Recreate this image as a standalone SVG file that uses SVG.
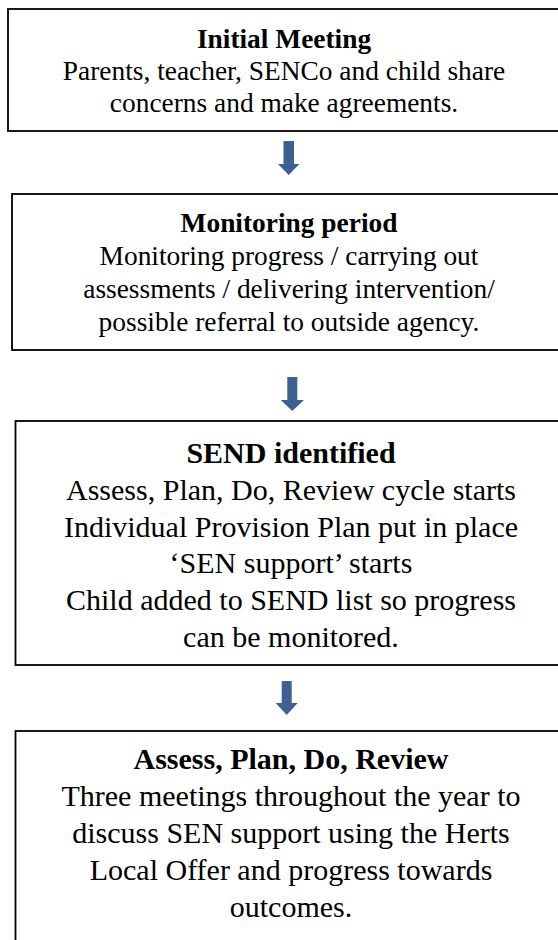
<svg xmlns="http://www.w3.org/2000/svg" width="558" height="940" viewBox="0 0 558 940">
<style>
.box{fill:#fff;stroke:#000;stroke-width:1.8}
.t{font-family:"Liberation Serif","Times New Roman",serif;fill:#000;text-anchor:middle}
.s1{font-size:27.4px}
.s2{font-size:30px}
.b{font-weight:bold}
.arr{fill:#3D6191}
</style>
<rect width="558" height="940" fill="#fff"/>
<g id="connectors">
<path class="arr" d="M283.5,141 H294 V164 H299.5 L288.7,175 L278,164 H283.5 Z"/>
<path class="arr" d="M287.3,377 H297.3 V400 H304 L292.3,411 L280.7,400 H287.3 Z"/>
<path class="arr" d="M281.7,681 H291.7 V703 H297.7 L286.7,715 L275.7,703 H281.7 Z"/>
</g>
<g id="node-initial-meeting">
<rect class="box" x="8" y="9" width="570" height="122"/>
<text class="t s1 b" x="284" y="48">Initial Meeting</text>
<text class="t s1" x="284" y="80">Parents, teacher, SENCo and child share</text>
<text class="t s1" x="284" y="112">concerns and make agreements.</text>
</g>
<g id="node-monitoring-period">
<rect class="box" x="12" y="194" width="566" height="156"/>
<text class="t s1 b" x="289" y="232">Monitoring period</text>
<text class="t s1" x="289" y="265">Monitoring progress / carrying out</text>
<text class="t s1" x="289" y="298">assessments / delivering intervention/</text>
<text class="t s1" x="289" y="331">possible referral to outside agency.</text>
</g>
<g id="node-send-identified">
<rect class="box" x="15.5" y="421" width="562" height="244"/>
<text class="t s2 b" x="291" y="463">SEND identified</text>
<text class="t s2" x="291" y="500">Assess, Plan, Do, Review cycle starts</text>
<text class="t s2" x="291" y="537">Individual Provision Plan put in place</text>
<text class="t s2" x="291" y="573">‘SEN support’ starts</text>
<text class="t s2" x="291" y="610">Child added to SEND list so progress</text>
<text class="t s2" x="291" y="647">can be monitored.</text>
</g>
<g id="node-assess-plan-do-review">
<rect class="box" x="15.5" y="731" width="562" height="240"/>
<text class="t s2 b" x="291" y="769">Assess, Plan, Do, Review</text>
<text class="t s2" x="291" y="806">Three meetings throughout the year to</text>
<text class="t s2" x="291" y="843">discuss SEN support using the Herts</text>
<text class="t s2" x="291" y="880">Local Offer and progress towards</text>
<text class="t s2" x="291" y="917">outcomes.</text>
</g>
</svg>
